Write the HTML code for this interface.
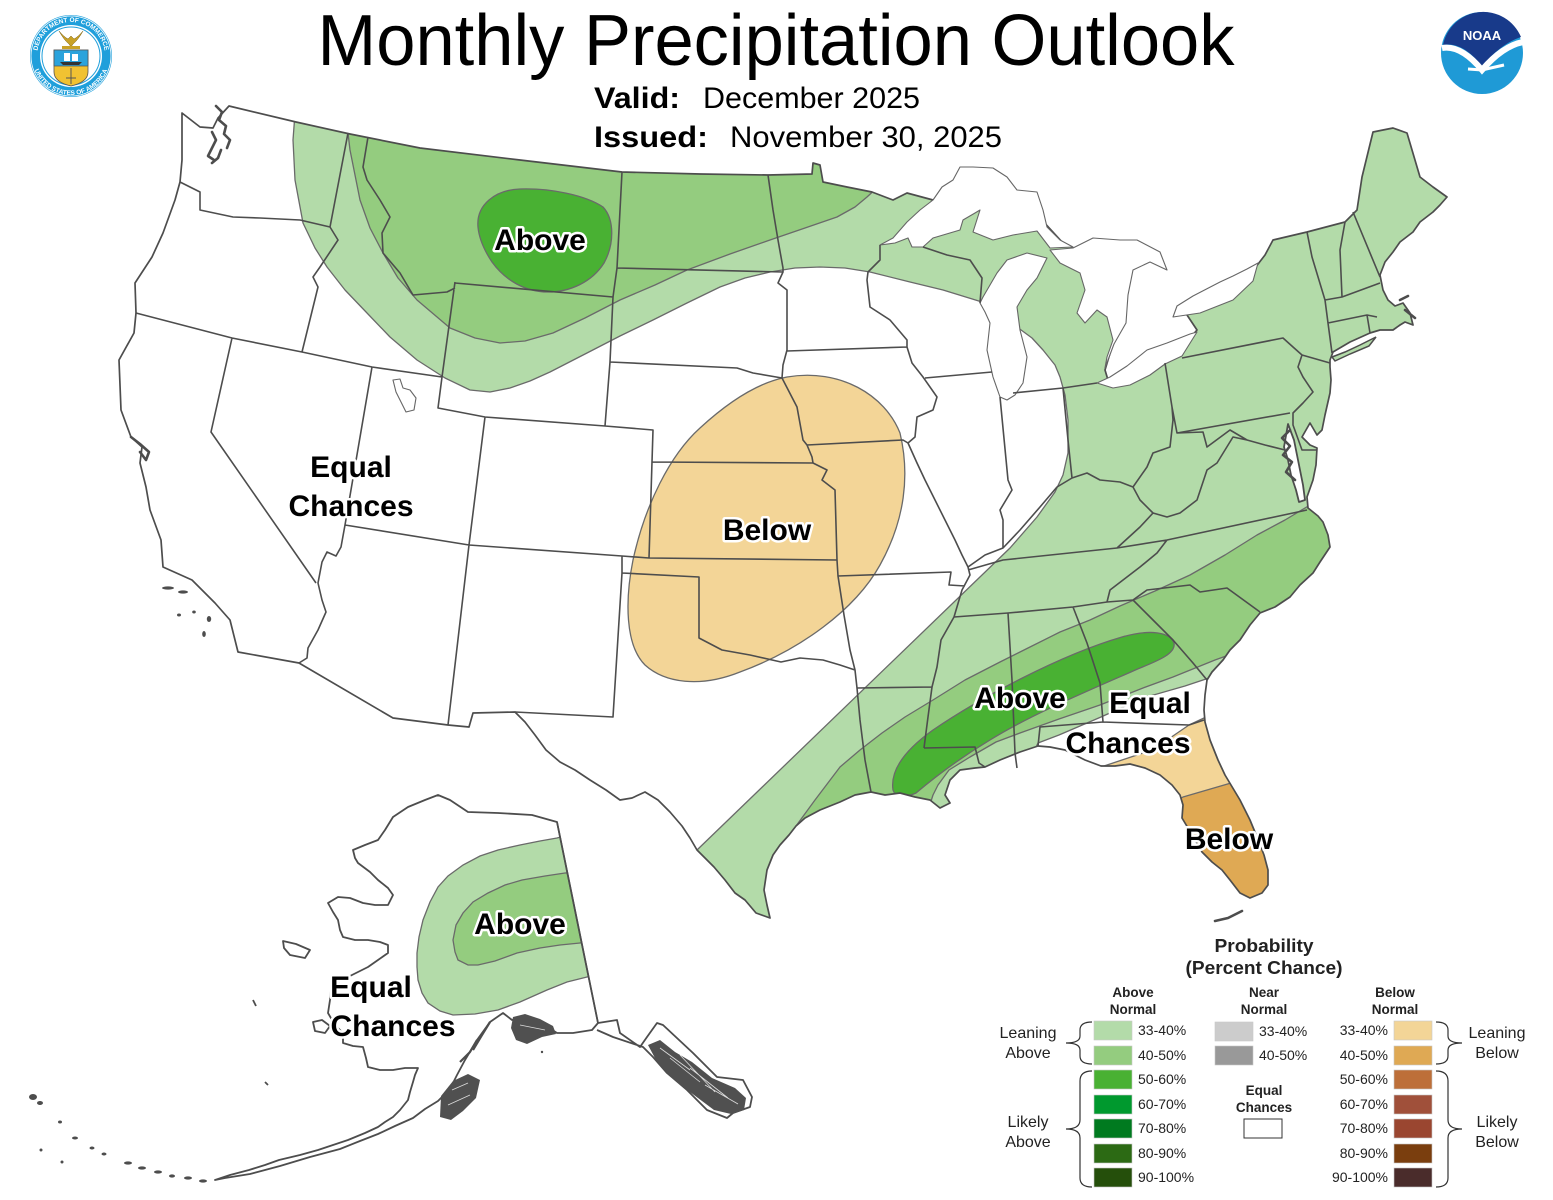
<!DOCTYPE html>
<html><head><meta charset="utf-8">
<style>
html,body{margin:0;padding:0;background:#fff;}
svg{display:block;}
.lbl{font-family:"Liberation Sans",Arial,sans-serif;font-weight:bold;font-size:30px;fill:#000;stroke:#fff;stroke-width:5;paint-order:stroke;stroke-linejoin:round;text-anchor:middle;}
.lg{font-family:"Liberation Sans",Arial,sans-serif;font-size:14px;fill:#222;}
.lgb{font-family:"Liberation Sans",Arial,sans-serif;font-size:13.5px;font-weight:bold;fill:#222;text-anchor:middle;}
</style></head>
<body>
<svg width="1553" height="1200" viewBox="0 0 1553 1200" xmlns="http://www.w3.org/2000/svg" font-family="'Liberation Sans', Arial, sans-serif">
<defs>
<clipPath id="us"><path id="uspath" d="M182,113 L200,127 L213,128 L218,118 L229,106 L296,122 L350,134 L420,148 L520,160 L622,172 L700,174 L768,175 L812,174 L813,163 L820,165 L823,182 L847,187 L872,192 L893,200 L907,193 L933,200 L960,200 L1000,205 L1040,218 L1062,242 L1075,249 L1095,255 L1120,275 L1122,300 L1118,330 L1111,350 L1105,370 L1108,380 L1140,365 L1170,348 L1190,338 L1197,330 L1185,312 L1210,300 L1240,285 L1255,268 L1265,255 L1273,240 L1307,232 L1345,222 L1357,210 L1362,177 L1373,132 L1393,128 L1407,133 L1420,177 L1433,187 L1447,197 L1440,205 L1433,212 L1420,222 L1413,232 L1400,242 L1393,252 L1385,262 L1380,275 L1383,290 L1388,300 L1395,306 L1403,303 L1410,313 L1413,325 L1405,322 L1400,325 L1393,330 L1380,330 L1370,333 L1350,342 L1333,352 L1330,360 L1330,367 L1331,380 L1330,393 L1325,415 L1322,430 L1317,435 L1310,423 L1302,437 L1310,445 L1317,448 L1316,465 L1313,480 L1307,497 L1308,508 L1318,516 L1323,522 L1328,535 L1330,547 L1320,562 L1313,573 L1300,585 L1290,597 L1275,607 L1260,613 L1250,625 L1240,640 L1230,650 L1223,660 L1212,672 L1207,680 L1205,695 L1204,710 L1205,722 L1210,740 L1218,760 L1225,775 L1231,785 L1240,800 L1250,820 L1257,837 L1264,855 L1268,870 L1268,885 L1262,893 L1250,898 L1240,893 L1230,880 L1222,870 L1212,862 L1202,852 L1195,840 L1188,828 L1182,818 L1183,805 L1180,795 L1172,785 L1160,775 L1145,768 L1130,764 L1115,766 L1101,766 L1085,760 L1065,750 L1050,747 L1038,746 L1020,752 L1000,760 L985,767 L975,768 L960,770 L950,780 L945,795 L950,803 L940,808 L930,800 L915,797 L900,793 L885,795 L871,792 L855,795 L840,802 L820,810 L805,818 L796,826 L789,835 L780,845 L773,855 L767,870 L764,890 L767,905 L770,918 L756,913 L745,900 L735,893 L725,880 L714,867 L705,858 L697,850 L690,838 L682,826 L670,812 L658,800 L645,792 L632,798 L620,800 L606,790 L590,780 L575,770 L560,762 L546,750 L535,735 L525,722 L519,716 L515,712 L473,713 L469,727 L448,725 L393,718 L299,663 L238,652 L230,620 L215,603 L192,580 L163,567 L161,540 L150,510 L146,487 L140,463 L142,447 L131,437 L121,410 L119,360 L134,333 L136,313 L135,283 L152,257 L163,233 L175,200 L180,182 L182,160 Z"/></clipPath>
<clipPath id="ak"><path id="akpath" d="M557,822 L532,815 L498,813 L468,812 L450,800 L438,795 L425,800 L408,807 L393,817 L385,830 L378,840 L365,845 L353,850 L355,858 L358,863 L370,872 L378,880 L388,888 L393,895 L388,905 L375,905 L363,903 L350,898 L338,897 L328,903 L333,912 L338,920 L340,930 L343,937 L355,940 L368,940 L380,942 L388,945 L388,953 L378,960 L368,967 L358,972 L348,977 L338,982 L331,990 L330,1000 L328,1013 L335,1025 L343,1033 L343,1043 L353,1046 L363,1047 L366,1058 L368,1067 L380,1070 L393,1070 L405,1068 L418,1068 L415,1075 L413,1082 L410,1092 L408,1100 L400,1110 L393,1117 L385,1122 L378,1127 L365,1133 L348,1140 L333,1145 L318,1150 L300,1155 L279,1160 L265,1165 L249,1170 L230,1175 L215,1180 L225,1178 L250,1174 L280,1166 L310,1157 L340,1149 L360,1141 L378,1134 L395,1126 L413,1118 L425,1109 L438,1101 L450,1089 L457,1075 L465,1060 L477,1040 L490,1022 L503,1013 L512,1020 L525,1016 L540,1022 L557,1033 L573,1033 L592,1030 L598,1023 Z"/></clipPath>
</defs>
<rect width="1553" height="1200" fill="#fff"/>

<!-- CONUS zones -->
<g clip-path="url(#us)" stroke="#6a6a6a" stroke-width="1.3" stroke-linejoin="round">
  <path fill="#b3dba9" d="M296,100 L293,140 L295,180 L303,223 L315,248 L327,267 L345,290 L367,313 L390,337 L417,360 L445,378 L470,390 L490,392 L510,388 L530,381 L550,372 L587,353 L620,336 L653,320 L687,303 L720,287 L745,278 L770,272 L795,268 L820,267 L845,268 L870,272 L910,282 L943,290 L982,302 L1000,312 L1017,327 L1032,338 L1043,350 L1055,365 L1060,377 L1065,395 L1068,420 L1068,453 L1063,475 L1055,492 L1037,517 L1010,548 L697,850 L600,945 L1300,1000 L1553,900 L1553,100 Z"/>
  <path fill="#94cc7f" d="M348,100 L348,133 L350,150 L355,175 L360,200 L370,228 L383,253 L398,278 L417,300 L450,328 L475,338 L500,343 L525,341 L553,333 L585,318 L620,300 L655,285 L687,270 L730,254 L770,240 L805,228 L837,217 L855,207 L867,197 L880,185 L900,150 L900,100 Z"/>
  <path fill="#49b133" d="M478,227 C476,205 495,190 520,189 C550,188 585,195 603,207 C615,220 614,245 604,263 C592,282 570,292 548,292 C525,292 505,280 492,262 C484,250 479,238 478,227 Z"/>
  <path fill="#94cc7f" d="M770,870 L785,845 L796,826 L815,800 L840,767 L860,750 L882,733 L905,717 L933,700 L965,680 L1000,662 L1030,647 L1060,632 L1090,620 L1120,606 L1155,591 L1190,575 L1225,555 L1257,535 L1285,520 L1310,505 L1340,490 L1400,560 L1270,640 L1215,660 L1173,677 L1143,688 L1100,705 L1059,719 L1020,733 L996,742 L970,757 L949,770 L938,785 L933,795 L925,820 L850,840 Z"/>
  <path fill="#49b133" d="M893,790 C890,770 905,750 933,730 C980,698 1060,655 1122,637 C1150,629 1170,632 1174,643 C1176,653 1160,660 1140,668 C1090,690 1030,715 990,740 C960,758 935,777 916,793 C905,798 895,797 893,790 Z"/>
  <path fill="#ffffff" d="M1240,655 L1212,677 L1185,686 L1143,698 L1101,717 L1059,735 L1038,743 L1030,760 L1100,1000 L1400,1000 L1400,655 Z"/>
  <path fill="#f3d597" d="M1090,775 L1101,767 L1143,753 L1170,738 L1189,725 L1204,718 L1230,710 L1320,1000 L1150,1000 L1090,800 Z"/>
  <path fill="#dfa954" d="M1165,808 L1183,797 L1207,790 L1231,783 L1260,778 L1320,1000 L1150,1000 Z"/>
  <path fill="#f3d597" d="M787,377 C840,368 885,395 900,433 C910,475 905,520 880,565 C855,610 800,650 740,672 C700,688 665,683 645,665 C625,645 625,600 633,560 C645,505 670,455 700,428 C725,405 755,383 787,377 Z"/>
</g>

<!-- Alaska zones -->
<g clip-path="url(#ak)" stroke="#6a6a6a" stroke-width="1.3">
  <path fill="#b3dba9" d="M557,838 L540,841 L520,845 L498,850 L480,856 L463,865 L448,876 L438,887 L430,902 L423,920 L419,937 L417,953 L417,967 L418,980 L422,993 L428,1003 L440,1011 L453,1015 L475,1014 L498,1010 L520,1002 L547,990 L567,982 L587,977 L620,970 L620,820 Z"/>
  <path fill="#94cc7f" d="M565,873 L545,876 L522,880 L505,885 L488,893 L473,902 L463,913 L456,925 L453,940 L455,952 L458,960 L468,965 L478,965 L495,961 L517,953 L540,948 L560,945 L580,943 L620,940 L620,870 Z"/>
</g>

<!-- coast outlines -->
<use href="#uspath" fill="none" stroke="#4d4d4d" stroke-width="1.7" stroke-linejoin="round"/>
<use href="#akpath" fill="none" stroke="#4d4d4d" stroke-width="1.8" stroke-linejoin="round"/>

<!-- lakes -->
<g fill="#fff" stroke="#666" stroke-width="1.1" stroke-linejoin="round">
  <path d="M880,245 L893,238 L907,222 L920,210 L933,200 L942,187 L953,180 L960,167 L973,167 L993,168 L1007,177 L1017,190 L1037,192 L1043,210 L1047,227 L1053,233 L1060,240 L1073,247 L1050,248 L1037,231 L1013,235 L993,240 L973,232 L980,210 L975,213 L963,220 L960,230 L933,238 L923,247 L912,247 L908,238 L895,243 Z"/>
  <path d="M1047,258 L1037,278 L1027,290 L1017,307 L1020,330 L1027,357 L1023,383 L1015,395 L1007,400 L1000,397 L993,377 L987,350 L990,323 L985,312 L980,303 L983,297 L990,285 L997,273 L1007,260 L1027,253 Z"/>
  <path d="M1050,250 L1073,248 L1093,238 L1120,240 L1137,240 L1160,252 L1167,270 L1150,262 L1133,270 L1128,295 L1126,323 L1114,344 L1105,368 L1107,357 L1113,340 L1107,317 L1097,310 L1085,323 L1077,313 L1085,290 L1080,273 L1060,263 Z"/>
  <path d="M1097,383 L1113,388 L1130,385 L1150,375 L1165,364 L1182,356 L1197,332 L1190,334 L1167,343 L1147,350 L1127,366 L1110,377 Z"/>
  <path d="M1173,317 L1200,313 L1233,300 L1253,281 L1258,263 L1247,269 L1233,276 L1220,282 L1193,296 L1177,306 Z"/>
  <path d="M393,380 L400,379 L403,388 L410,390 L416,398 L414,410 L406,412 L401,402 L396,392 Z"/>
  <path d="M1288,424 L1294,440 L1297,455 L1300,470 L1303,485 L1305,500 L1299,502 L1296,490 L1291,475 L1288,460 L1284,447 Z" stroke="#4d4d4d" stroke-width="1.8"/>
</g>

<!-- Long Island -->
<path d="M1332,357 L1345,352 L1360,345 L1376,337 L1369,346 L1350,354 L1335,361 Z" fill="#b3dba9" stroke="#4d4d4d" stroke-width="1.5"/>

<!-- state borders -->
<path fill="none" stroke="#4d4d4d" stroke-width="1.6" stroke-linejoin="round" d="
M180,182 L200,192 L200,210 L233,217 L260,218 L300,220 L330,227
M348,133 L330,227
M330,227 L338,240 L320,267 L313,277 L318,287 L302,352
M136,313 L232,338 L302,352 L372,367 L442,377
M368,137 L363,167 L367,180 L380,200 L390,217 L382,233 L383,253 L400,273 L413,295 L447,292 L455,288
M455,282 L442,377 L438,408 L485,417 L605,426 L653,430 L652,462 L649,558
M232,338 L211,432 L316,583
M372,367 L345,525 L341,547 L336,556 L327,552 L322,562 L318,583 L322,600 L326,612 L318,630 L308,648 L307,658 L299,663
M345,525 L469,545 L622,556 L649,558 L837,560
M485,417 L469,545 L448,725
M455,283 L613,297
M622,172 L617,268 L613,297 L610,362 L605,426
M617,268 L783,272
M768,175 L773,210 L778,240 L783,268 L783,272 L778,283 L787,290 L787,350 L783,365 L782,378
M610,362 L737,368 L753,373 L782,378
M787,351 L907,347
M880,245 L880,260 L868,272 L867,280 L870,307 L890,320 L907,340 L907,347
M782,378 L797,407 L803,440 L807,445 L812,457 L813,463 L827,470 L822,480 L835,490 L837,560 L838,576 L844,615 L850,650 L855,670 L857,688 L860,720 L865,760 L871,792
M652,462 L813,463
M807,445 L903,440 L908,443
M907,347 L912,363 L923,377 L937,397 L933,410 L917,417 L915,437 L908,443 L917,463 L925,480 L935,500 L945,520 L955,540 L962,555 L968,567 L970,575 L962,590 L954,617 L941,640 L937,667 L932,687 L928,717 L924,748
M925,378 L992,372
M923,247 L947,255 L970,260 L982,278 L980,303
M838,576 L951,572 L949,585 L965,586
M622,556 L622,573 L613,717 L515,712
M622,573 L699,577 L699,638 L722,650 L750,655 L781,662 L800,658 L823,660 L840,665 L855,670
M857,688 L932,687
M924,748 L975,747 L979,763 L985,767
M954,617 L1008,613 L1073,607 L1107,602 L1133,600
M1008,613 L1012,680 L1015,753 L1017,768
M1073,607 L1087,643 L1100,683 L1103,722 L1189,725 L1204,720
M1103,722 L1040,727 L1038,746
M1133,600 L1153,620 L1173,640 L1193,663 L1207,680
M1133,600 L1147,590 L1190,585 L1200,592 L1227,588 L1260,612
M968,570 L1003,560 L1117,548 L1167,540 L1307,510
M1167,540 L1157,553 L1140,567 L1110,590 L1107,602
M968,567 L985,555 L1003,548
M1000,397 L1008,480 L1012,490 L1000,510 L1003,520 L1003,548 L1020,530 L1040,507 L1057,487 L1072,478 L1087,473 L1100,480 L1120,482 L1133,487 L1140,500 L1153,513 L1140,527 L1117,548
M1013,393 L1063,388 L1097,383
M1063,388 L1068,440 L1072,478
M1133,487 L1147,467 L1153,453 L1170,447 L1173,420 L1172,407 L1165,363
M1172,407 L1177,433 L1290,413
M1177,433 L1203,432 L1207,447 L1230,430 L1247,440 L1265,445 L1285,450
M1247,440 L1233,437 L1217,463 L1207,470 L1197,500 L1180,513 L1167,517 L1153,513
M1182,358 L1283,338 L1293,347 L1302,355 L1298,367 L1303,377 L1313,392 L1303,403 L1293,413 L1293,425 L1302,450 L1317,450
M1302,355 L1330,363
M1307,232 L1312,257 L1325,300 L1328,323 L1332,353
M1345,222 L1340,250 L1342,297
M1353,212 L1380,277
M1325,300 L1342,297 L1380,283
M1328,323 L1367,315 L1377,317
M1367,315 L1370,333
M557,822 L598,1023
"/>

<!-- coastal details -->
<g fill="none" stroke="#4d4d4d" stroke-width="2.6" stroke-linejoin="round" stroke-linecap="round">
  <path d="M216,106 L222,112 L219,120 L226,126 L224,134 L230,140 L227,148"/>
  <path d="M212,132 L216,140 L212,148 L208,156 L214,160"/>
  <path d="M221,150 L218,158 L212,163"/>
  <path d="M131,437 L140,444 L149,452 L146,460 L140,452"/>
  <path d="M1290,430 L1282,438 L1290,446 L1283,455 L1292,462 L1286,472 L1295,480"/>
  <path d="M1215,921 L1228,918 L1242,911"/>
  <path d="M1400,300 L1408,296 M1405,310 L1415,318"/>
</g>
<g fill="#4d4d4d">
  <ellipse cx="168" cy="588" rx="6" ry="1.6"/><ellipse cx="183" cy="592" rx="5" ry="1.6"/>
  <ellipse cx="179" cy="615" rx="2" ry="1.5"/><ellipse cx="194" cy="612" rx="1.8" ry="1.5"/>
  <ellipse cx="209" cy="619" rx="2.2" ry="3"/><ellipse cx="204" cy="634" rx="1.8" ry="3"/>
</g>

<!-- Alaska details -->
<g fill="none" stroke="#4d4d4d" stroke-width="1.8" stroke-linejoin="round">
  <path d="M598,1023 L617,1020 L620,1033 L640,1047 L647,1037 L657,1023 L663,1025 L693,1053 L717,1077 L743,1080 L752,1097 L750,1107 L733,1113 L727,1118 L707,1110 L687,1090 L667,1073 L653,1057 L643,1047 L613,1037 L597,1030"/>
  <path d="M283,941 L296,944 L310,950 L305,958 L290,955 L284,948 Z"/>
  <path d="M313,1022 L322,1020 L330,1026 L325,1033 L315,1031 Z"/>
  <path d="M253,1000 L256,1006"/>
  <path d="M265,1082 L268,1085"/>
  <path d="M477,1040 L470,1052 L460,1062 M490,1022 L482,1035 L473,1050" stroke-width="2.2"/>
</g>
<g fill="#505050">
  <path d="M648,1045 L660,1040 L675,1052 L692,1062 L712,1078 L735,1088 L746,1098 L744,1110 L731,1114 L714,1110 L698,1098 L682,1086 L668,1074 L656,1060 Z"/>
  <path d="M513,1017 L525,1014 L540,1019 L553,1026 L556,1034 L542,1037 L527,1044 L516,1040 L511,1028 Z"/>
  <path d="M441,1096 L453,1081 L468,1074 L480,1080 L476,1098 L463,1111 L451,1120 L440,1117 Z"/>
</g>
<g fill="none" stroke="#fff" stroke-width="0.8" opacity="0.8">
  <path d="M660,1048 L690,1070 M670,1058 L700,1082 M690,1068 L728,1098 M705,1085 L738,1104 M680,1055 L715,1092"/>
  <path d="M452,1090 L468,1083 M448,1105 L470,1095 M520,1025 L545,1030"/>
</g>
<g fill="#4d4d4d">
  <ellipse cx="33" cy="1097" rx="4" ry="3"/><ellipse cx="40" cy="1103" rx="3" ry="2"/>
  <ellipse cx="60" cy="1122" rx="2" ry="1.5"/><ellipse cx="75" cy="1138" rx="3" ry="1.5"/>
  <ellipse cx="92" cy="1148" rx="2.5" ry="1.5"/><ellipse cx="104" cy="1154" rx="2.5" ry="1.5"/>
  <ellipse cx="128" cy="1163" rx="4" ry="1.6"/><ellipse cx="142" cy="1168" rx="4" ry="1.6"/>
  <ellipse cx="158" cy="1172" rx="4" ry="1.6"/><ellipse cx="172" cy="1176" rx="3" ry="1.6"/>
  <ellipse cx="188" cy="1178" rx="4" ry="1.6"/><ellipse cx="203" cy="1181" rx="4" ry="1.6"/>
  <ellipse cx="41" cy="1150" rx="1.5" ry="1.5"/><ellipse cx="62" cy="1162" rx="1.5" ry="1.5"/>
  <ellipse cx="542" cy="1052" rx="1.2" ry="1.2"/>
</g>

<!-- map labels -->
<text class="lbl" x="540" y="250">Above</text>
<text class="lbl" x="351" y="477">Equal</text>
<text class="lbl" x="351" y="516">Chances</text>
<text class="lbl" x="767" y="540">Below</text>
<text class="lbl" x="1020" y="708">Above</text>
<text class="lbl" x="1150" y="713">Equal</text>
<text class="lbl" x="1128" y="753">Chances</text>
<text class="lbl" x="1229" y="849">Below</text>
<text class="lbl" x="520" y="934">Above</text>
<text class="lbl" x="371" y="997">Equal</text>
<text class="lbl" x="393" y="1036">Chances</text>

<!-- title -->
<text x="776" y="65" font-size="72" text-anchor="middle" textLength="917" lengthAdjust="spacingAndGlyphs" fill="#000">Monthly Precipitation Outlook</text>
<text x="594" y="108" font-size="30" font-weight="bold" textLength="86" lengthAdjust="spacingAndGlyphs" fill="#000">Valid:</text>
<text x="703" y="108" font-size="30" textLength="217" lengthAdjust="spacingAndGlyphs" fill="#000">December 2025</text>
<text x="594" y="147" font-size="30" font-weight="bold" textLength="114" lengthAdjust="spacingAndGlyphs" fill="#000">Issued:</text>
<text x="730" y="147" font-size="30" textLength="272" lengthAdjust="spacingAndGlyphs" fill="#000">November 30, 2025</text>

<!-- DOC seal -->
<g>
  <circle cx="71" cy="56" r="41" fill="#1f9fdb"/>
  <circle cx="71" cy="56" r="40" fill="none" stroke="#fff" stroke-width="0.8"/>
  <circle cx="71" cy="56" r="31" fill="#fff"/>
  <circle cx="71" cy="56" r="29" fill="none" stroke="#1f9fdb" stroke-width="1"/>
  <path id="sealtop" d="M37,56 A34,34 0 0 1 105,56" fill="none"/>
  <path id="sealbot" d="M32,56 A39,39 0 0 0 110,56" fill="none"/>
  <text font-size="6.5" font-weight="bold" fill="#fff" text-anchor="middle"><textPath href="#sealtop" startOffset="50%">DEPARTMENT OF COMMERCE</textPath></text>
  <text font-size="6.5" font-weight="bold" fill="#fff" text-anchor="middle"><textPath href="#sealbot" startOffset="50%">UNITED STATES OF AMERICA</textPath></text>
  <path d="M54,50 L88,50 L88,72 Q88,82 71,86 Q54,82 54,72 Z" fill="#f1c232" stroke="#555" stroke-width="0.8"/>
  <path d="M54,50 L88,50 L88,66 L54,66 Z" fill="#2ba3dc" stroke="#555" stroke-width="0.8"/>
  <path d="M60,62 L82,62 L79,65 L63,65 Z" fill="#333"/>
  <path d="M64,61 L64,53 L70,53 L70,61 M72,61 L72,54 L78,54 L78,61" fill="#fff"/>
  <path d="M71,68 L71,84 M66,78 L76,78" stroke="#555" stroke-width="1"/>
  <path d="M59,31 Q64,40 69,44 L71,47 L73,44 Q78,40 83,31 Q78,37 74,39 L71,36 L68,39 Q64,37 59,31 Z" fill="#c9a227" stroke="#7a5f10" stroke-width="0.5"/>
  <rect x="62" y="46" width="18" height="3" fill="#c9a227"/>
</g>

<!-- NOAA logo -->
<g>
  <circle cx="1482" cy="53" r="41" fill="#1f9ad6"/>
  <path d="M1521,37 A41,41 0 0 0 1443,45 C1460,42 1473,55 1482,66 C1494,52 1508,41 1521,37 Z" fill="#183a8a"/>
  <path d="M1442,48 C1458,45 1472,58 1482,70 C1494,56 1508,45 1523,42" fill="none" stroke="#fff" stroke-width="6"/>
  <path d="M1468,69 L1482,70 L1504,65" fill="none" stroke="#fff" stroke-width="3"/>
  <text x="1482" y="40" font-size="13" font-weight="bold" fill="#fff" text-anchor="middle">NOAA</text>
</g>

<!-- Legend -->
<text x="1264" y="952" font-size="18" font-weight="bold" text-anchor="middle" textLength="99" lengthAdjust="spacingAndGlyphs" fill="#222">Probability</text>
<text x="1264" y="974" font-size="18" font-weight="bold" text-anchor="middle" textLength="157" lengthAdjust="spacingAndGlyphs" fill="#222">(Percent Chance)</text>
<text class="lgb" x="1133" y="997">Above</text>
<text class="lgb" x="1133" y="1014">Normal</text>
<text class="lgb" x="1264" y="997">Near</text>
<text class="lgb" x="1264" y="1014">Normal</text>
<text class="lgb" x="1395" y="997">Below</text>
<text class="lgb" x="1395" y="1014">Normal</text>

<g stroke="#c8c8c8" stroke-width="0.6">
  <rect x="1094" y="1021" width="38" height="19" fill="#b3dba9"/>
  <rect x="1094" y="1046" width="38" height="19" fill="#94cc7f"/>
  <rect x="1094" y="1070" width="38" height="19" fill="#49b133"/>
  <rect x="1094" y="1095" width="38" height="19" fill="#00992e"/>
  <rect x="1094" y="1119" width="38" height="19" fill="#007a1f"/>
  <rect x="1094" y="1144" width="38" height="19" fill="#2c6a14"/>
  <rect x="1094" y="1168" width="38" height="19" fill="#254f0b"/>
  <rect x="1215" y="1022" width="38" height="19" fill="#cccccc"/>
  <rect x="1215" y="1046" width="38" height="19" fill="#999999"/>
  <rect x="1394" y="1021" width="38" height="19" fill="#f3d597"/>
  <rect x="1394" y="1046" width="38" height="19" fill="#dfa954"/>
  <rect x="1394" y="1070" width="38" height="19" fill="#bd6f39"/>
  <rect x="1394" y="1095" width="38" height="19" fill="#a0503a"/>
  <rect x="1394" y="1119" width="38" height="19" fill="#9a4630"/>
  <rect x="1394" y="1144" width="38" height="19" fill="#7a3e0e"/>
  <rect x="1394" y="1168" width="38" height="19" fill="#4a2c2b"/>
</g>
<rect x="1244" y="1119" width="38" height="19" fill="#fff" stroke="#333" stroke-width="1"/>

<g class="lg">
  <text x="1138" y="1035">33-40%</text>
  <text x="1138" y="1060">40-50%</text>
  <text x="1138" y="1084">50-60%</text>
  <text x="1138" y="1109">60-70%</text>
  <text x="1138" y="1133">70-80%</text>
  <text x="1138" y="1158">80-90%</text>
  <text x="1138" y="1182">90-100%</text>
  <text x="1259" y="1036">33-40%</text>
  <text x="1259" y="1060">40-50%</text>
  <g text-anchor="end">
    <text x="1388" y="1035">33-40%</text>
    <text x="1388" y="1060">40-50%</text>
    <text x="1388" y="1084">50-60%</text>
    <text x="1388" y="1109">60-70%</text>
    <text x="1388" y="1133">70-80%</text>
    <text x="1388" y="1158">80-90%</text>
    <text x="1388" y="1182">90-100%</text>
  </g>
</g>
<text class="lgb" x="1264" y="1095">Equal</text>
<text class="lgb" x="1264" y="1112">Chances</text>

<g font-size="16" fill="#222" text-anchor="middle">
  <text x="1028" y="1038">Leaning</text>
  <text x="1028" y="1058">Above</text>
  <text x="1028" y="1127">Likely</text>
  <text x="1028" y="1147">Above</text>
  <text x="1497" y="1038">Leaning</text>
  <text x="1497" y="1058">Below</text>
  <text x="1497" y="1127">Likely</text>
  <text x="1497" y="1147">Below</text>
</g>

<g fill="none" stroke="#333" stroke-width="1.2">
  <path d="M1092,1022 Q1080,1022 1080,1030 L1080,1036 Q1080,1043 1066,1043 Q1080,1043 1080,1050 L1080,1056 Q1080,1064 1092,1064"/>
  <path d="M1092,1071 Q1080,1071 1080,1081 L1080,1120 Q1080,1129 1066,1129 Q1080,1129 1080,1138 L1080,1178 Q1080,1187 1092,1187"/>
  <path d="M1436,1022 Q1448,1022 1448,1030 L1448,1036 Q1448,1043 1462,1043 Q1448,1043 1448,1050 L1448,1056 Q1448,1064 1436,1064"/>
  <path d="M1436,1071 Q1448,1071 1448,1081 L1448,1120 Q1448,1129 1462,1129 Q1448,1129 1448,1138 L1448,1178 Q1448,1187 1436,1187"/>
</g>
</svg>
</body>
</html>
